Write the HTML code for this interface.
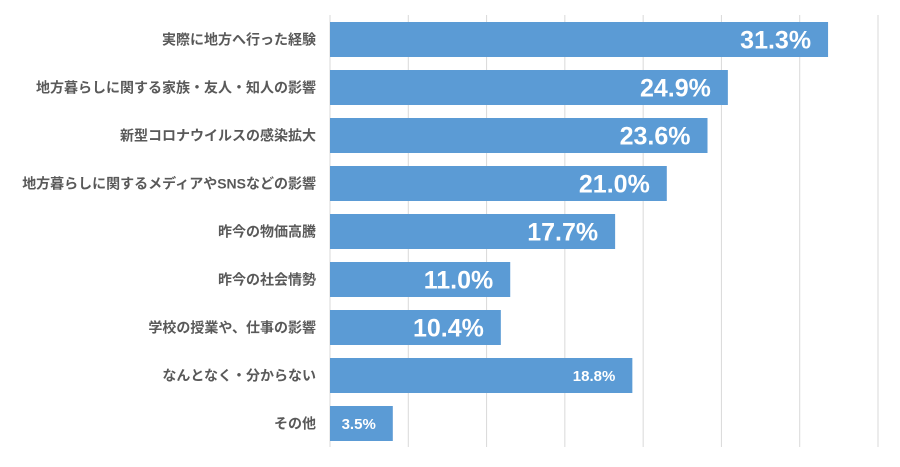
<!DOCTYPE html>
<html><head><meta charset="utf-8"><style>
html,body{margin:0;padding:0;background:#fff;width:900px;height:467px;overflow:hidden}
svg text{font-family:"Liberation Sans","Noto Sans CJK JP",sans-serif;font-weight:bold}
</style></head><body>
<svg id="chart" width="900" height="467" xmlns="http://www.w3.org/2000/svg"></svg>
<script>
const categories=["実際に地方へ行った経験","地方暮らしに関する家族・友人・知人の影響","新型コロナウイルスの感染拡大","地方暮らしに関するメディアやSNSなどの影響","昨今の物価高騰","昨今の社会情勢","学校の授業や、仕事の影響","なんとなく・分からない","その他"];
const values=[31.3,24.9,23.6,21.0,17.7,11.0,10.4,18.8,3.5];
const valueLabels=["31.3%","24.9%","23.6%","21.0%","17.7%","11.0%","10.4%","18.8%","3.5%"];
const xMax=35, gridCount=7;
const svg=document.getElementById('chart');
const NS='http://www.w3.org/2000/svg';
const x0=330,plotW=548,y0=15,plotH=432,band=plotH/categories.length,barH=35,barExtra=8;
const xs=v=>x0+v/xMax*plotW;
function mk(t,a){const e=document.createElementNS(NS,t);for(const k in a)e.setAttribute(k,a[k]);svg.appendChild(e);return e;}
for(let i=0;i<=gridCount;i++){
  const gx=x0+plotW*i/gridCount;
  const g=mk('line',{x1:gx,x2:gx,y1:y0,y2:y0+plotH,stroke:'#d9d9d9','stroke-width':1});
  
  
}
categories.forEach((c,i)=>{
  const cy=y0+band*i+band/2+0.5;
  const end=xs(values[i])+barExtra;
  const r=mk('rect',{x:x0,y:cy-barH/2,width:end-x0,height:barH,fill:'#5b9bd5'});
  
  
  const l=mk('text',{x:316,y:cy+5,'text-anchor':'end','font-size':14,fill:'#595959'});
  l.textContent=c;
  
  
  const small=i>=7;
  const v=mk('text',{x:end-17,y:cy+(small?5.5:9),'text-anchor':'end','font-size':small?15:25,fill:'#fff'});
  v.textContent=valueLabels[i];
  
  
});
</script>
</body></html>
